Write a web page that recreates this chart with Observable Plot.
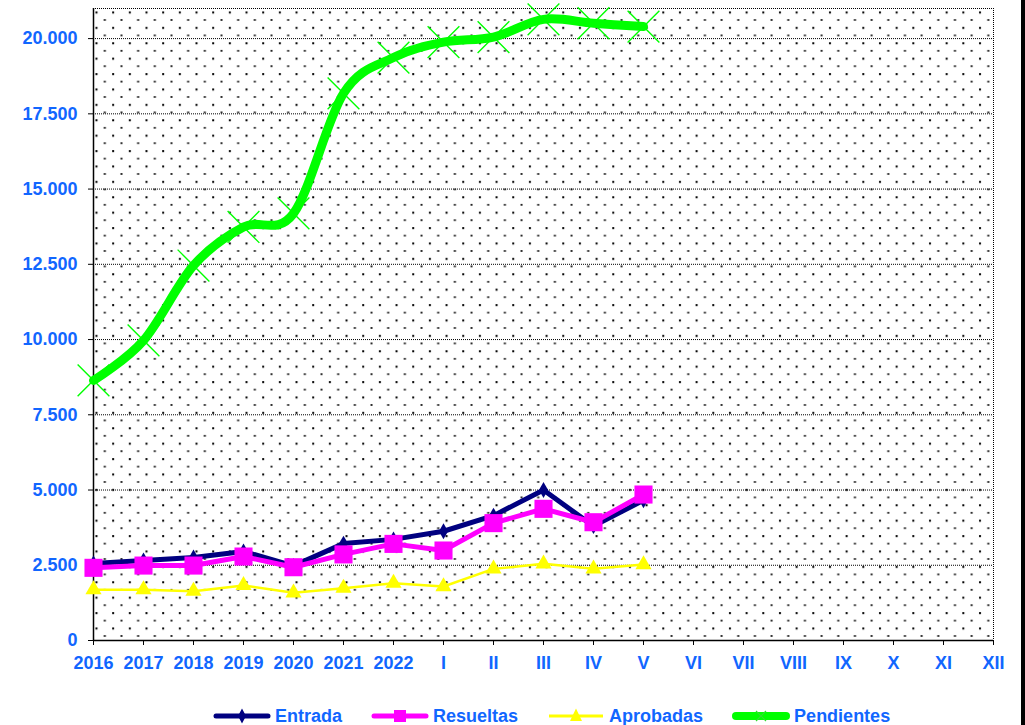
<!DOCTYPE html>
<html><head><meta charset="utf-8">
<script src="https://cdn.jsdelivr.net/npm/d3@7"></script>
<script src="https://cdn.jsdelivr.net/npm/@observablehq/plot@0.6"></script>
<style>
body{margin:0;background:#fff;width:1025px;height:725px;overflow:hidden;position:relative;font-family:"Liberation Sans",Arial,sans-serif;}
#chart svg{display:block;}
#legend{position:absolute;left:213px;top:705px;height:22px;display:flex;align-items:center;gap:29px;color:#1166ff;font-weight:bold;font-size:18px;white-space:nowrap;}
.item{display:flex;align-items:center;gap:4px;}
.item svg{display:block;}
#bar{position:absolute;left:1021px;top:0;width:4px;height:725px;background:#000;}
</style></head><body>
<div id="chart"></div><div id="legend"></div><div id="bar"></div>
<script>
const categories = ["2016","2017","2018","2019","2020","2021","2022","I","II","III","IV","V","VI","VII","VIII","IX","X","XI","XII"];
const entrada    = [2560, 2660, 2760, 2960, 2480, 3220, 3360, 3630, 4150, 5000, 3800, 4660];
const resueltas  = [2415, 2490, 2490, 2790, 2435, 2860, 3210, 2990, 3900, 4375, 3930, 4850];
const aprobadas  = [1690, 1690, 1640, 1830, 1585, 1740, 1905, 1795, 2380, 2550, 2385, 2525];
const pendientes = [8640, 9970, 12460, 13740, 14190, 18180, 19370, 19880, 20050, 20640, 20510, 20400];
const yTicks = [0, 2500, 5000, 7500, 10000, 12500, 15000, 17500, 20000];
const seriesNames = ["Entrada", "Resueltas", "Aprobadas", "Pendientes"];
const seriesColors = ["#000080", "#ff00ff", "#ffff00", "#00ff00"];

const blue = "#1166ff";
const fmt = d3.formatLocale({decimal: ",", thousands: ".", grouping: [3], currency: ["", ""]}).format(",d");
const toRows = (vals) => vals.map((v, i) => ({cat: categories[i], value: v}));
const rE = toRows(entrada), rR = toRows(resueltas), rA = toRows(aprobadas), rP = toRows(pendientes);

const plot = Plot.plot({
  width: 1025, height: 690,
  marginLeft: 93, marginRight: 32, marginTop: 8, marginBottom: 50,
  style: {fontFamily: "'Liberation Sans', Arial, sans-serif", fontSize: "18px", fontWeight: "bold", background: "white"},
  x: {type: "point", domain: categories, padding: 0, label: null},
  y: {domain: [0, 21000], label: null},
  marks: [
    Plot.frame({fill: "url(#dots)", stroke: "none"}),
    Plot.ruleY(yTicks.filter(d => d > 0).concat([21000]), {stroke: "#000", strokeDasharray: "1,1", strokeWidth: 1}),
    Plot.ruleX(["XII"], {stroke: "#000", strokeDasharray: "1,1", strokeWidth: 1}),
    Plot.ruleX(["2016"], {stroke: "#000", strokeWidth: 1.5}),
    Plot.ruleY([0], {stroke: "#000", strokeWidth: 1.5}),
    Plot.axisY({ticks: yTicks, tickFormat: fmt, tickSize: 5, tickPadding: 11, stroke: "#000", fill: blue, fontSize: 18, fontWeight: "bold", label: null}),
    Plot.axisX({tickSize: 5, tickPadding: 11, stroke: "#000", fill: blue, fontSize: 18, fontWeight: "bold", label: null}),
    Plot.line(rE, {x: "cat", y: "value", stroke: seriesColors[0], strokeWidth: 5, strokeLinejoin: "round", strokeLinecap: "round"}),
    Plot.dot(rE, {x: "cat", y: "value", symbol: "diamond", r: 4.8, fill: seriesColors[0], stroke: "none"}),
    Plot.line(rR, {x: "cat", y: "value", stroke: seriesColors[1], strokeWidth: 5, strokeLinejoin: "round", strokeLinecap: "round"}),
    Plot.dot(rR, {x: "cat", y: "value", symbol: "square", r: 10.2, fill: seriesColors[1], stroke: "none"}),
    Plot.line(rA, {x: "cat", y: "value", stroke: seriesColors[2], strokeWidth: 2.5, strokeLinejoin: "round"}),
    Plot.dot(rA, {x: "cat", y: "value", symbol: "triangle", r: 6, fill: seriesColors[2], stroke: "none"}),
    Plot.line(rP, {x: "cat", y: "value", stroke: seriesColors[3], strokeWidth: 9, curve: "cardinal", strokeLinejoin: "round", strokeLinecap: "round"}),
    Plot.dot(rP, {x: "cat", y: "value", symbol: "times", r: 14.5, fill: "none", stroke: seriesColors[3], strokeWidth: 1.4})
  ]
});

// dotted background pattern
const svgSel = d3.select(plot);
const defs = svgSel.insert("defs", ":first-child");
const pat = defs.append("pattern").attr("id", "dots").attr("patternUnits", "userSpaceOnUse")
  .attr("x", 93).attr("y", 8).attr("width", 16.67).attr("height", 15.4);
pat.append("rect").attr("x", 2).attr("y", 3).attr("width", 2).attr("height", 2).attr("fill", "#000");
pat.append("rect").attr("x", 10.3).attr("y", 10.7).attr("width", 2).attr("height", 1.6).attr("fill", "#000");

document.getElementById("chart").appendChild(plot);

// legend
const legend = document.getElementById("legend");
const markers = [
  `<line x1="3" y1="10" x2="55" y2="10" stroke="#000080" stroke-width="5" stroke-linecap="round"/><path d="M29,2.5L33,10L29,17.5L25,10Z" fill="#000080"/>`,
  `<line x1="3" y1="10" x2="55" y2="10" stroke="#ff00ff" stroke-width="5" stroke-linecap="round"/><rect x="23" y="4" width="12" height="12" fill="#ff00ff"/>`,
  `<line x1="2" y1="10" x2="56" y2="10" stroke="#ffff00" stroke-width="3"/><path d="M29,2.5L35,15L23,15Z" fill="#ffff00"/>`,
  `<line x1="4" y1="10" x2="54" y2="10" stroke="#00ff00" stroke-width="8" stroke-linecap="round"/><path d="M24,5L34,15M34,5L24,15" stroke="#33dd33" stroke-width="1.2"/>`
];
seriesNames.forEach((name, i) => {
  const item = document.createElement("div");
  item.className = "item";
  item.innerHTML = `<svg width="58" height="20" viewBox="0 0 58 20">${markers[i]}</svg><span>${name}</span>`;
  legend.appendChild(item);
});
</script></body></html>
